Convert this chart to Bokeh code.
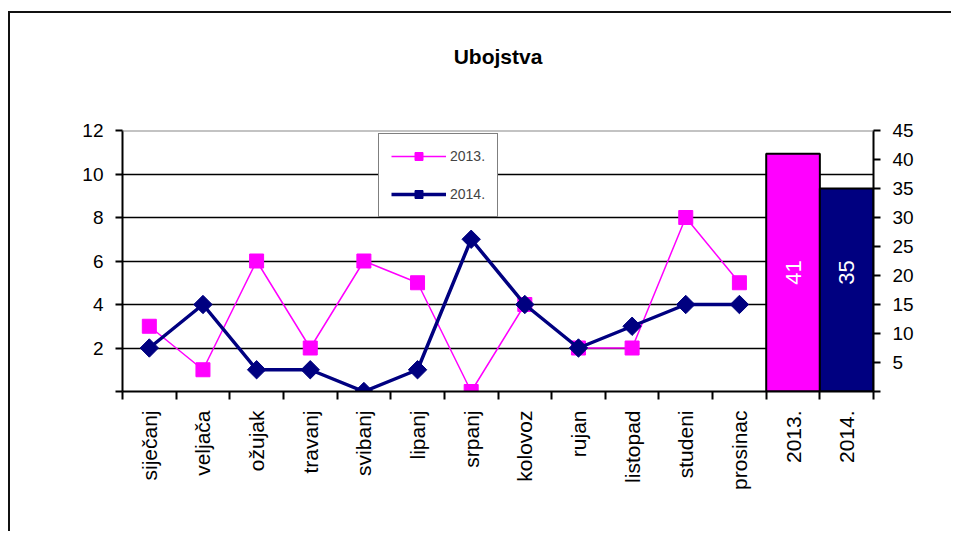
import math
from bokeh.plotting import figure
from bokeh.models import Range1d, LinearAxis, FixedTicker, Legend, LegendItem, Span, Title
from bokeh.core.properties import value
from bokeh.embed import file_html
from bokeh.resources import INLINE

months = ["siječanj", "veljača", "ožujak", "travanj", "svibanj", "lipanj",
          "srpanj", "kolovoz", "rujan", "listopad", "studeni", "prosinac"]
years = ["2013.", "2014."]
v2013 = [3, 1, 6, 2, 6, 5, 0, 4, 2, 2, 8, 5]
v2014 = [2, 4, 1, 1, 0, 1, 7, 4, 2, 3, 4, 4]
totals = [41, 35]
left_ticks = [0, 2, 4, 6, 8, 10, 12]
right_ticks = [0, 5, 10, 15, 20, 25, 30, 35, 40, 45]

PINK = "#FF00FF"
NAVY = "#000080"
FONT = "Liberation Sans"

categories = months + years
n = len(categories)
xm = [i + 0.5 for i in range(len(months))]
xb = [len(months) + i + 0.5 for i in range(len(years))]

p = figure(width=943, height=520, x_range=Range1d(0, n), y_range=Range1d(0, left_ticks[-1]),
           output_backend="svg", toolbar_location=None,
           min_border_left=112, min_border_right=80, min_border_top=117, min_border_bottom=142)
p.styles = {"margin-left": "8px", "margin-top": "11px",
            "border-left": "2px solid #111111", "border-top": "2px solid #111111"}
p.extra_y_ranges = {"right": Range1d(0, right_ticks[-1])}

# title: a blank spacer title next to the frame, then the real title above it
p.title_location = None
p.add_layout(Title(text="\u00a0", text_font_size="50px", standoff=0), "above")
p.add_layout(Title(text="Ubojstva", align="center", text_font=FONT, text_font_size="21px",
                   text_font_style="bold", text_color="black"), "above")

p.outline_line_color = None
p.xgrid.grid_line_color = None
p.ygrid.ticker = FixedTicker(ticks=left_ticks[1:-1])
p.ygrid.grid_line_color = "black"
p.ygrid.grid_line_width = 1.5
p.add_layout(Span(location=left_ticks[-1], dimension="width", line_color="#888888", line_width=2))

# bars (right axis)
p.vbar(x=xb, top=totals, bottom=0, width=1, y_range_name="right",
       fill_color=[PINK, NAVY], line_color="black", line_width=2)
p.text(x=xb, y=[max(totals) / 2] * len(totals), text=[str(t) for t in totals], y_range_name="right",
       angle=math.pi / 2, text_align="center", text_baseline="middle",
       text_color="white", text_font=value(FONT), text_font_size="22px")

# lines
l1 = p.line(xm, v2013, line_color=PINK, line_width=1.5)
s1 = p.scatter(xm, v2013, marker="square", size=14, fill_color=PINK, line_color=PINK)
l2 = p.line(xm, v2014, line_color=NAVY, line_width=3.5)
s2 = p.scatter(xm, v2014, marker="square", angle=math.pi / 4, size=13, fill_color=NAVY, line_color=NAVY)

legend = Legend(items=[LegendItem(label="2013.", renderers=[l1, s1]),
                       LegendItem(label="2014.", renderers=[l2, s2])],
                location=(256, 174), orientation="vertical")
legend.border_line_color = "black"
legend.border_line_width = 1.5
legend.background_fill_alpha = 1
legend.label_text_font = FONT
legend.label_text_font_size = "14px"
legend.glyph_width = 55
legend.glyph_height = 20
legend.spacing = 18
legend.padding = 12
legend.margin = 0
legend.label_standoff = 4
p.add_layout(legend)

# axes
def style_axis(ax):
    ax.axis_line_color = "black"
    ax.axis_line_width = 2
    ax.major_tick_line_color = "black"
    ax.major_tick_line_width = 2
    ax.major_tick_in = 0
    ax.major_tick_out = 7
    ax.minor_tick_line_color = None
    ax.major_label_text_font = FONT
    ax.major_label_text_font_size = "19px"
    ax.major_label_text_color = "black"

yax = p.yaxis[0]
yax.ticker = FixedTicker(ticks=left_ticks)
yax.major_label_overrides = {0: ""}
style_axis(yax)
yax.major_label_standoff = 12

rax = LinearAxis(y_range_name="right", ticker=FixedTicker(ticks=right_ticks))
rax.major_label_overrides = {0: ""}
style_axis(rax)
rax.major_label_standoff = 12
p.add_layout(rax, "right")

xax = p.xaxis[0]
style_axis(xax)
xax.ticker = FixedTicker(ticks=xm + xb, minor_ticks=list(range(n + 1)))
xax.major_label_overrides = {x: c for x, c in zip(xm + xb, categories)}
xax.major_tick_line_color = None
xax.minor_tick_line_color = "black"
xax.minor_tick_line_width = 2
xax.minor_tick_in = 0
xax.minor_tick_out = 8
xax.major_label_orientation = math.pi / 2
xax.major_label_text_font_size = "21px"
xax.major_label_standoff = 11

open("out.html", "w").write(file_html(p, INLINE))
